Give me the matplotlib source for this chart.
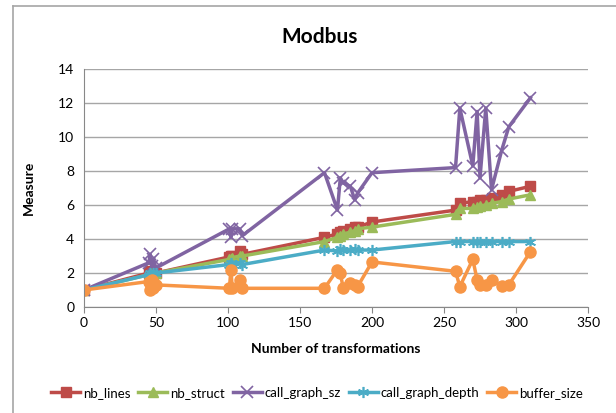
import matplotlib
matplotlib.use("Agg")
from matplotlib import pyplot as plt
from matplotlib.lines import Line2D

plt.rcParams['font.family'] = ['Lato', 'DejaVu Sans']

# number of transformations (shared x for all series)
transformations = [0, 45, 46, 47, 48, 50,
                   101, 102, 103, 108, 110,
                   167, 176, 178, 180, 185, 188, 190, 200,
                   258, 261, 270, 273, 275, 279, 283, 290, 295, 310]

nb_lines = [1.0, 2.0, 2.1, 1.9, 2.0, 2.0,
            2.95, 3.0, 3.0, 3.3, 3.1,
            4.1, 4.3, 4.4, 4.45, 4.6, 4.7, 4.7, 5.0,
            5.7, 6.1, 6.2, 6.2, 6.3, 6.3, 6.4, 6.6, 6.8, 7.1]
nb_struct = [1.0, 1.9, 2.0, 1.9, 1.95, 2.0,
             2.8, 2.85, 2.9, 3.0, 3.0,
             3.85, 4.1, 4.2, 4.3, 4.4, 4.5, 4.6, 4.7,
             5.45, 5.8, 5.8, 5.9, 5.95, 6.0, 6.1, 6.2, 6.35, 6.6]
call_graph_sz = [1.0, 2.6, 3.1, 2.4, 2.8, 2.3,
                 4.6, 4.1, 4.6, 4.6, 4.2,
                 7.9, 5.7, 7.6, 7.3, 7.1, 6.3, 6.7, 7.9,
                 8.2, 11.7, 8.3, 11.5, 7.6, 11.7, 6.9, 9.2, 10.6, 12.3]
call_graph_depth = [1.0, 1.9, 2.0, 1.9, 2.0, 2.0,
                    2.5, 2.6, 2.5, 2.6, 2.5,
                    3.35, 3.3, 3.4, 3.35, 3.35, 3.4, 3.35, 3.35,
                    3.85, 3.85, 3.85, 3.85, 3.85, 3.85, 3.85, 3.85, 3.85, 3.85]
buffer_size = [1.0, 1.5, 1.0, 1.6, 1.1, 1.3,
               1.1, 2.2, 1.1, 1.6, 1.1,
               1.1, 2.2, 2.0, 1.1, 1.4, 1.3, 1.2, 2.65,
               2.1, 1.2, 2.8, 1.6, 1.3, 1.3, 1.6, 1.25, 1.3, 3.25]

fig = plt.figure(figsize=(6.16, 4.13), dpi=100)
ax = fig.add_axes([84 / 616, 1 - 307 / 413, (588 - 84) / 616, (307 - 69) / 413])

# outer chart border, only left and top edges are visible
bx, by = 13 / 616, 1 - 6 / 413
fig.lines.append(Line2D([bx, bx], [0, by], transform=fig.transFigure, color='#a6a6a6', lw=1.2))
fig.lines.append(Line2D([bx, 1], [by, by], transform=fig.transFigure, color='#a6a6a6', lw=1.2))

ax.plot(transformations, nb_lines, label='nb_lines', color='#BE4B48', marker='s', ms=7, lw=2.5)
ax.plot(transformations, nb_struct, label='nb_struct', color='#9BBB59', marker='^', ms=7, lw=2.5)
ax.plot(transformations, call_graph_sz, label='call_graph_sz', color='#8064A2', marker='x', ms=8.5, mew=1.2, lw=2.5)
ax.plot(transformations, call_graph_depth, label='call_graph_depth', color='#4BACC6', marker=(6, 2, 0), ms=8,
        mew=1.2, lw=2.5)
ax.plot(transformations, buffer_size, label='buffer_size', color='#F79646', marker='o', ms=8, lw=2.5)

ax.set_xlim(0, 350)
ax.set_ylim(0, 14)
ax.set_xticks(range(0, 351, 50))
ax.set_yticks(range(0, 15, 2))
ax.yaxis.grid(True, color='#a6a6a6', linewidth=1)
ax.set_axisbelow(True)
for s in ['top', 'right']:
    ax.spines[s].set_visible(False)
for s in ['left', 'bottom']:
    ax.spines[s].set_color('#888888')
ax.tick_params(axis='both', labelsize=10, color='#888888', length=4)
ax.tick_params(axis='y', length=0, pad=7)

fig.text(320 / 616, 1 - 37 / 413, 'Modbus', fontsize=15, fontweight='bold', ha='center', va='center')
ax.set_xlabel('Number of transformations', fontsize=10, fontweight='bold', labelpad=10)
ax.set_ylabel('Measure', fontsize=10, fontweight='bold', labelpad=17)

fig.legend(loc='center', bbox_to_anchor=(317 / 616, 1 - 393 / 413), ncol=5, frameon=False,
           fontsize=9.5, handlelength=2.2, columnspacing=0.6, handletextpad=0.2)

fig.savefig('out.png', dpi=100)
